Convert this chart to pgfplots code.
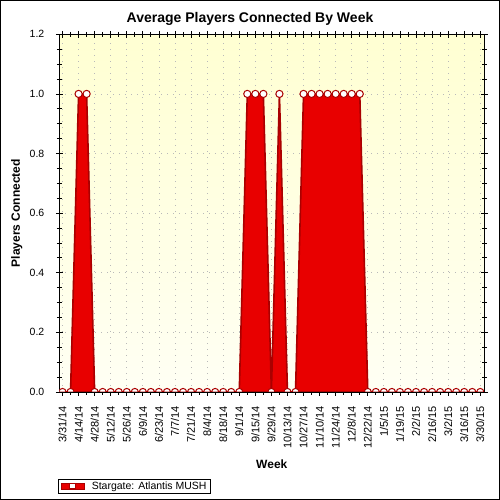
\documentclass[border=0pt]{standalone}
\usepackage{fontspec}
\setmainfont{Liberation Sans}
\usepackage{pgfplots}
\usepackage{pgfplotstable}
\pgfplotsset{compat=1.18}
\definecolor{areared}{RGB}{232,0,0}
\definecolor{edgered}{RGB}{170,0,0}
\definecolor{bgtop}{RGB}{255,255,210}
\definecolor{bgbot}{RGB}{255,255,244}
\definecolor{gridgray}{RGB}{185,185,185}

\pgfdeclareplotmark{upperhalf}{%
  \pgfpathmoveto{\pgfqpoint{\pgfplotmarksize}{0pt}}%
  \pgfpatharc{0}{180}{\pgfplotmarksize}%
  \pgfpathclose
  \pgfusepathqfillstroke}

\pgfplotstableread{
w v
0 0
1 0
2 1
3 1
4 0
5 0
6 0
7 0
8 0
9 0
10 0
11 0
12 0
13 0
14 0
15 0
16 0
17 0
18 0
19 0
20 0
21 0
22 0
23 1
24 1
25 1
26 0
27 1
28 0
29 0
30 1
31 1
32 1
33 1
34 1
35 1
36 1
37 1
38 0
39 0
40 0
41 0
42 0
43 0
44 0
45 0
46 0
47 0
48 0
49 0
50 0
51 0
52 0
}\players

\begin{document}
\begin{tikzpicture}
\useasboundingbox (0bp,0bp) rectangle (500bp,500bp);
\draw[line width=1bp] (0.5bp,0.5bp) rectangle (499.5bp,499.5bp);
\node[font=\fontsize{14bp}{16bp}\selectfont\bfseries] at (250bp,481bp) {Average Players Connected By Week};
\begin{axis}[
 at={(59.3bp,108bp)}, anchor=south west,
 scale only axis, width=425bp, height=357.7bp,
 xmin=-0.4, xmax=52.5, ymin=0, ymax=1.2,
 axis line style={line width=1bp, black},
 xtick={0,2,...,52},
 xticklabels={3/31/14,4/14/14,4/28/14,5/12/14,5/26/14,6/9/14,6/23/14,7/7/14,7/21/14,8/4/14,8/18/14,9/1/14,9/15/14,9/29/14,10/13/14,10/27/14,11/10/14,11/24/14,12/8/14,12/22/14,1/5/15,1/19/15,2/2/15,2/16/15,3/2/15,3/16/15,3/30/15},
 minor x tick num=1,
 ytick={0,0.2,...,1.2}, minor y tick num=3,
 tick align=center,
 major tick length=7bp, minor tick length=5bp,
 tick style={black, line width=0.8bp},
 /pgf/number format/assume math mode=true,
 xticklabel style={rotate=90, anchor=east, font=\fontsize{11bp}{13bp}\selectfont, xshift=-7bp},
 yticklabel style={font=\fontsize{10.5bp}{12bp}\selectfont, xshift=-8bp, /pgf/number format/.cd, fixed, fixed zerofill, precision=1},
 grid=major,
 major grid style={gridgray, line width=0.8bp, dash pattern=on 0.8bp off 5.2bp},
 axis background/.style={shade, shading angle=-45, top color=bgtop, bottom color=bgbot},
 xlabel={Week}, ylabel={Players Connected},
 label style={font=\fontsize{12bp}{14bp}\selectfont\bfseries},
 xlabel style={at={(axis description cs:0.5,0)}, anchor=center, yshift=-72bp},
 ylabel style={at={(axis description cs:-0.1002,0.5)}, anchor=center},
 clip mode=individual,
 clip marker paths=true,
 legend style={at={(axis description cs:0,0)}, anchor=north west, xshift=-1bp, yshift=-87bp, draw=black, line width=0.8bp, font=\fontsize{10.5bp}{12bp}\selectfont, inner xsep=2bp, inner ysep=0.3bp},
 legend image code/.code={
   \draw[fill=areared, draw=edgered, line width=0.6bp] (0bp,-3.3bp) rectangle (23bp,3.3bp);
   \draw[fill=white, draw=edgered, line width=0.6bp] (8.5bp,-2.5bp) rectangle (14.5bp,2.5bp);
   \path (28bp,0bp);
 },
]
\addplot[fill=areared, draw=edgered, line width=1.6bp]
  table[x=w,y=v]{\players} \closedcycle;
\addlegendentry{Stargate: Atlantis MUSH\hspace{8bp}}
\addplot[forget plot, only marks, mark=upperhalf, mark size=3.6bp,
  mark options={fill=white, draw=edgered, line width=1bp, solid},
  y filter/.expression={y==0 ? y : nan}]
  table[x=w,y=v]{\players};
\addplot[forget plot, only marks, mark=*, mark size=3.6bp,
  mark options={fill=white, draw=edgered, line width=1bp, solid},
  y filter/.expression={y==1 ? y : nan}]
  table[x=w,y=v]{\players};
\end{axis}
\end{tikzpicture}
\end{document}
